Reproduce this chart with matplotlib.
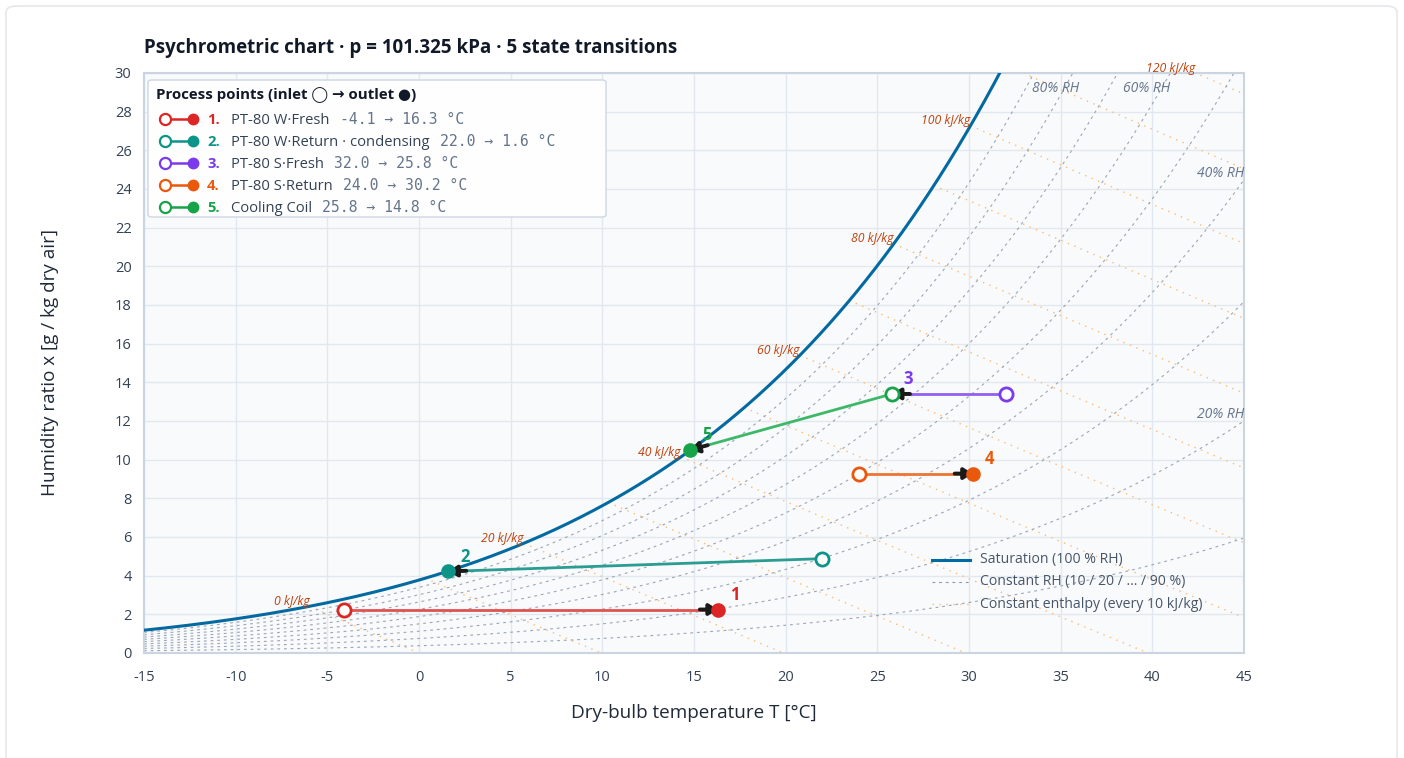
import numpy as np
import matplotlib
matplotlib.use("Agg")
import matplotlib.pyplot as plt
from matplotlib.patches import FancyBboxPatch
from matplotlib.lines import Line2D

# ---------------- data ----------------
P_ATM = 101.325  # kPa
T_RANGE = (-15, 45)
X_RANGE = (0, 30)
X_TICKS = list(range(-15, 50, 5))
Y_TICKS = list(range(0, 32, 2))
RH_LEVELS = [10, 20, 30, 40, 50, 60, 70, 80, 90]
RH_LABELED = [20, 40, 60, 80]
H_LEVELS = [0, 10, 20, 30, 40, 50, 60, 70, 80, 90, 100, 110, 120]
H_LABELED = [0, 20, 40, 60, 80, 100, 120]

proc_ids = [1, 2, 3, 4, 5]
proc_names = ["PT-80 W·Fresh", "PT-80 W·Return · condensing", "PT-80 S·Fresh",
              "PT-80 S·Return", "Cooling Coil"]
t_in = [-4.1, 22.0, 32.0, 24.0, 25.8]
t_out = [16.3, 1.6, 25.8, 30.2, 14.8]
x_in = [2.25, 4.88, 13.4, 9.28, 13.4]
x_out = [2.25, 4.22, 13.4, 9.28, 10.5]
proc_colors = ["#dc2626", "#0d9488", "#7c3aed", "#ea580c", "#16a34a"]
line_colors = ["#e05252", "#2a9d92", "#9061f0", "#ee7434", "#3cb868"]

SAT_COLOR = "#0369a1"
RH_COLOR = "#8a97ab"
H_COLOR = "#fdba74"
H_LABEL_COLOR = "#c2410c"

FONT = ["Open Sans", "DejaVu Sans"]
plt.rcParams["font.family"] = FONT
plt.rcParams["axes.unicode_minus"] = False

W_PX, H_PX = 1404, 758
fig = plt.figure(figsize=(W_PX / 100, H_PX / 100), dpi=100)
fig.patch.set_facecolor("white")


def fx(px):
    return px / W_PX


def fy(py):
    return 1 - py / H_PX


# card border
card = FancyBboxPatch((fx(6), fy(790)), fx(1397) - fx(6), fy(6) - fy(790),
                      boxstyle="round,pad=0,rounding_size=0.008",
                      transform=fig.transFigure, facecolor="white",
                      edgecolor="#e5e7eb", lw=1.2, zorder=-5)
fig.patches.append(card)

ax = fig.add_axes([fx(144), fy(653), fx(1244) - fx(144), fy(73) - fy(653)])
ax.set_facecolor("#f9fafb")


# ---------------- psychrometrics ----------------
def pws(T):
    return 0.61094 * np.exp(17.625 * T / (T + 243.04))


def w_of(T, rh):
    pv = rh * pws(T)
    return 622.0 * pv / (P_ATM - pv)  # g/kg


T = np.linspace(T_RANGE[0], T_RANGE[1], 600)

# RH lines
for rh in RH_LEVELS:
    ax.plot(T, w_of(T, rh / 100), color=RH_COLOR, lw=0.8, ls=(0, (2.5, 3.5)), alpha=0.85,
            zorder=2)

# saturation
ax.plot(T, w_of(T, 1.0), color=SAT_COLOR, lw=2.2, zorder=4)

# enthalpy lines
Tf = np.linspace(-15, 60, 3000)
wsat = w_of(Tf, 1.0)
hsat = 1.006 * Tf + wsat / 1000.0 * (2501 + 1.86 * Tf)
for h in H_LEVELS:
    ts = np.interp(h, hsat, Tf)
    ws = np.interp(h, hsat, wsat)
    tt = np.linspace(ts, h / 1.006, 200)
    ww = 1000 * (h - 1.006 * tt) / (2501 + 1.86 * tt)
    ax.plot(tt, ww, color=H_COLOR, lw=1.0, ls=(0, (1, 4)), zorder=1.5)
    if h in H_LABELED:
        if ws > 30:
            tl = (h - 0.030 * 2501) / (1.006 + 0.030 * 1.86)
            wl = 30.0
        else:
            tl, wl = ts, ws
        ax.text(tl, wl + 0.25, f"{h} kJ/kg", color=H_LABEL_COLOR, fontsize=8.8,
                style="italic", ha="right", va="center", zorder=6, clip_on=False)

# RH labels
rh_label_pos = {80: (34.7, 29.2, "center"), 60: (39.7, 29.2, "center"),
                40: (45, 24.8, "right"), 20: (45, 12.36, "right")}
for rh in RH_LABELED:
    tl, wl, ha = rh_label_pos[rh]
    ax.text(tl, wl, f"{rh}% RH", color="#64748b", fontsize=10, style="italic",
            ha=ha, va="center", zorder=6)

# ---------------- processes ----------------
sx = 1100 / 60.0
sy = 580 / 30.0
for i in range(len(proc_ids)):
    ax.plot([t_in[i], t_out[i]], [x_in[i], x_out[i]], color=line_colors[i], lw=2.0, zorder=7,
            solid_capstyle="butt")
    dx = t_out[i] - t_in[i]
    dy = x_out[i] - x_in[i]
    L = np.hypot(dx * sx, dy * sy)
    ux, uy = dx * sx / L, dy * sy / L
    start = (t_out[i] - ux * 18 / sx, x_out[i] - uy * 18 / sy)
    ax.annotate("", xy=(t_out[i], x_out[i]), xytext=start,
                arrowprops=dict(arrowstyle="-|>,head_length=0.5,head_width=0.32",
                                color="#1a1a1a", lw=2.8, shrinkA=0, shrinkB=0),
                zorder=8)

for i in range(len(proc_ids)):
    c = proc_colors[i]
    ax.plot(t_out[i], x_out[i], "o", ms=9, mfc=c, mec=c, mew=1.5, zorder=9)
for i in range(len(proc_ids)):
    c = proc_colors[i]
    ax.plot(t_in[i], x_in[i], "o", ms=9.5, mfc="white", mec=c, mew=2.0, zorder=10)
    ax.text(t_out[i] + 0.9, x_out[i] + 0.75, str(proc_ids[i]), color=c, fontsize=12,
            fontweight="bold", ha="center", va="center", zorder=11)

# ---------------- axes styling ----------------
ax.set_xlim(*T_RANGE)
ax.set_ylim(*X_RANGE)
ax.set_xticks(X_TICKS)
ax.set_yticks(Y_TICKS)
ax.grid(True, color="#e2e8f0", lw=1.0, zorder=0)
ax.set_axisbelow(True)
ax.tick_params(length=0, labelsize=10.5, labelcolor="#334155")
ax.tick_params(axis="x", pad=12)
ax.tick_params(axis="y", pad=9)
for s in ax.spines.values():
    s.set_color("#cbd5e1")
    s.set_linewidth(1.5)
ax.set_xlabel("Dry-bulb temperature T [°C]", fontsize=13.6, color="#1f2937", labelpad=14)
ax.set_ylabel("Humidity ratio x [g / kg dry air]", fontsize=13.6, color="#1f2937",
              labelpad=40)

fig.text(fx(144), fy(48), "Psychrometric chart · p = 101.325 kPa · 5 state transitions",
         fontsize=13.5, fontweight="bold", color="#111827", ha="left", va="center")

# ---------------- process legend (manual) ----------------
fig.patches.append(FancyBboxPatch((fx(148), fy(217)), fx(606) - fx(148), fy(80) - fy(217),
                                  boxstyle="round,pad=0,rounding_size=0.003",
                                  transform=fig.transFigure, facecolor="white",
                                  edgecolor="#cbd5e1", lw=1.0, alpha=0.95, zorder=20))
fig.text(fx(156), fy(95), "Process points (inlet ◯ → outlet ●)", fontsize=10.8,
         fontweight="bold", color="#111827", ha="left", va="center", zorder=21,
         family=["Open Sans", "DejaVu Sans"])

fig.canvas.draw()
renderer = fig.canvas.get_renderer()
for i in range(len(proc_ids)):
    yy = fy(119 + 22 * i)
    yb = fy(119 + 22 * i + 5)  # common text baseline
    c = proc_colors[i]
    fig.lines.append(Line2D([fx(172), fx(187)], [yy, yy], color=c, lw=1.8,
                            transform=fig.transFigure, zorder=21))
    fig.lines.append(Line2D([fx(165)], [yy], marker="o", ms=8, mfc="white", mec=c, mew=1.6,
                            transform=fig.transFigure, zorder=22))
    fig.lines.append(Line2D([fx(193)], [yy], marker="o", ms=7.5, mfc=c, mec=c,
                            transform=fig.transFigure, zorder=22))
    fig.text(fx(207), yb, f"{proc_ids[i]}.", fontsize=10.6, fontweight="bold", color=c,
             ha="left", va="baseline", zorder=21)
    t2 = fig.text(fx(231), yb, proc_names[i], fontsize=10.6, color="#334155",
                  ha="left", va="baseline", zorder=21)
    bb = t2.get_window_extent(renderer)
    fig.text((bb.x1 + 10) / W_PX, yb, f"{t_in[i]:.1f} → {t_out[i]:.1f} °C", fontsize=10.6,
             color="#64748b", family=["DejaVu Sans Mono"], ha="left", va="baseline",
             zorder=21)

# ---------------- line-type legend ----------------
leg_items = [("Saturation (100 % RH)", SAT_COLOR, "-", 2.2),
             ("Constant RH (10 / 20 / … / 90 %)", RH_COLOR, (0, (2.5, 3.5)), 0.8),
             ("Constant enthalpy (every 10 kJ/kg)", H_COLOR, (0, (1, 4)), 1.0)]
for k, (lab, col, ls, lw) in enumerate(leg_items):
    yy = fy(560 + 22 * k)
    fig.lines.append(Line2D([fx(932), fx(970)], [yy, yy], color=col, ls=ls, lw=lw,
                            transform=fig.transFigure, zorder=21))
    fig.text(fx(980), yy, lab, fontsize=10.1, color="#475569", ha="left", va="center",
             zorder=21)

fig.savefig("out.png", dpi=100)
